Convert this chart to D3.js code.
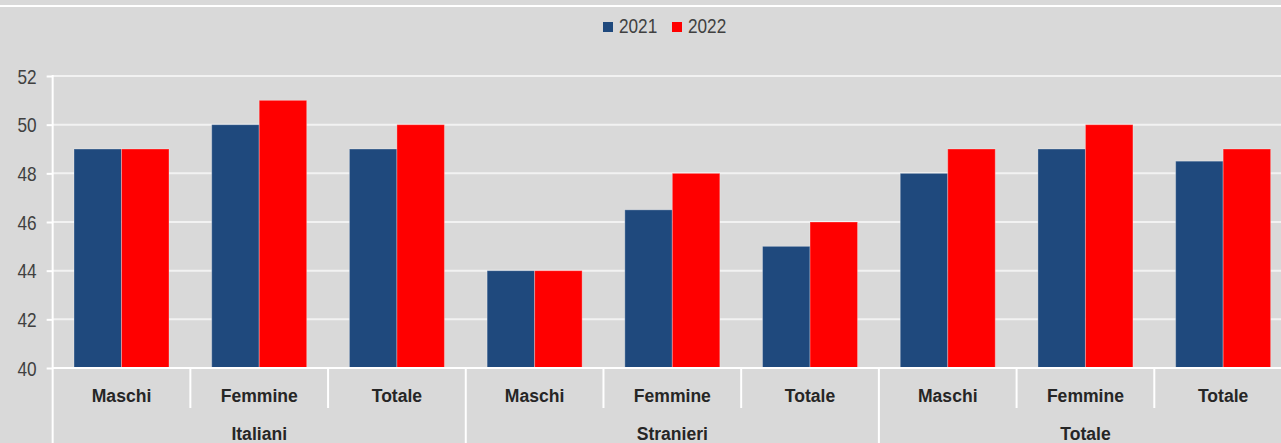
<!DOCTYPE html>
<html>
<head>
<meta charset="utf-8">
<script src="https://cdn.jsdelivr.net/npm/d3@7"></script>
<style>
  html, body { margin: 0; padding: 0; background: #d9d9d9; overflow: hidden; }
  svg { display: block; }
  text { font-family: "Liberation Sans", Arial, sans-serif; }
</style>
</head>
<body>
<svg id="chart" width="1281" height="443"></svg>
<script>
const subCategories = ["Maschi", "Femmine", "Totale", "Maschi", "Femmine", "Totale", "Maschi", "Femmine", "Totale"];
const groups = ["Italiani", "Stranieri", "Totale"];
const seriesNames = ["2021", "2022"];
const values2021 = [49, 50, 49, 44, 46.5, 45, 48, 49, 48.5];
const values2022 = [49, 51, 50, 44, 48, 46, 49, 50, 49];
const yTicks = [40, 42, 44, 46, 48, 50, 52];
const colors = ["#1f497d", "#ff0000"];

(function () {
const svg = d3.select("#chart");
const W = 1281, H = 443;
svg.append("rect").attr("width", W).attr("height", H).attr("fill", "#d9d9d9");
svg.append("rect").attr("x", 0).attr("y", 5).attr("width", W).attr("height", 2).attr("fill", "#ffffff");

const mLeft = 52.65, mRight = 1292, mTop = 76, mBottom = 368;
const idx = d3.range(subCategories.length);
const x = d3.scaleBand().domain(idx).range([mLeft, mRight]).paddingInner(0).paddingOuter(0);
const bw = x.bandwidth();
const pad = 21.35 / 137.7 * bw;
const x1 = d3.scaleBand().domain(seriesNames).range([pad, bw - pad]).padding(0);
const y = d3.scaleLinear().domain([40, 52]).range([mBottom, mTop]);

// gridlines
svg.append("g").selectAll("line").data(yTicks.filter(t => t > 40)).join("line")
  .attr("x1", mLeft).attr("x2", W).attr("y1", d => y(d)).attr("y2", d => y(d))
  .attr("stroke", "#f2f2f2").attr("stroke-width", 2);

// bars
const rows = idx.map(i => ({ i, vals: [values2021[i], values2022[i]] }));
const gBars = svg.append("g");
rows.forEach(r => {
  seriesNames.forEach((s, k) => {
    gBars.append("rect")
      .attr("x", x(r.i) + x1(s))
      .attr("y", y(r.vals[k]))
      .attr("width", x1.bandwidth())
      .attr("height", y(40) - y(r.vals[k]))
      .attr("fill", colors[k])
      .attr("stroke", "rgba(255,255,255,0.3)")
      .attr("stroke-width", 1);
  });
});

// y axis
const yAxis = d3.axisLeft(y).tickValues(yTicks).tickSize(6).tickSizeOuter(0).tickFormat(d3.format("d"));
const gy = svg.append("g").attr("transform", `translate(${mLeft},0)`).call(yAxis);
gy.select(".domain").remove();
gy.selectAll(".tick line").attr("stroke", "#ffffff").attr("stroke-width", 2);
gy.selectAll(".tick text").remove();
gy.selectAll(".tick").append("text")
  .attr("transform", "translate(-16,7) scale(0.86,1)")
  .attr("text-anchor", "end")
  .attr("fill", "#404040")
  .attr("font-size", 20)
  .text(d => d);
svg.append("line").attr("x1", mLeft).attr("x2", mLeft).attr("y1", mTop - 1).attr("y2", H)
  .attr("stroke", "#ffffff").attr("stroke-width", 2);

// x axis baseline
svg.append("line").attr("x1", mLeft).attr("x2", W).attr("y1", mBottom).attr("y2", mBottom)
  .attr("stroke", "#ffffff").attr("stroke-width", 2);

// x axis labels
const xAxis = d3.axisBottom(x).tickSize(0).tickFormat(i => subCategories[i]);
const gx = svg.append("g").attr("transform", `translate(0,${mBottom})`).call(xAxis);
gx.select(".domain").remove();
gx.selectAll(".tick text").remove();
gx.selectAll(".tick").append("text")
  .attr("transform", "translate(0,33.5) scale(0.95,1)")
  .attr("text-anchor", "middle")
  .attr("fill", "#262626")
  .attr("font-weight", "bold")
  .attr("font-size", 18.5)
  .text(i => subCategories[i]);

// separators
idx.slice(1).forEach(i => {
  const xx = x(i);
  const isGroup = i % 3 === 0;
  svg.append("line").attr("x1", xx).attr("x2", xx).attr("y1", mBottom).attr("y2", isGroup ? H : 408)
    .attr("stroke", "#ffffff").attr("stroke-width", 2);
});

// group labels
groups.forEach((g, gi) => {
  const cx = (x(gi * 3) + x(gi * 3 + 2) + bw) / 2;
  svg.append("text")
    .attr("transform", `translate(${cx},440) scale(0.95,1)`)
    .attr("text-anchor", "middle")
    .attr("fill", "#262626")
    .attr("font-weight", "bold")
    .attr("font-size", 18.5)
    .text(g);
});

// legend
const legendX = [603, 672];
seriesNames.forEach((s, k) => {
  svg.append("rect").attr("x", legendX[k]).attr("y", 22).attr("width", 10).attr("height", 10)
    .attr("fill", colors[k]);
  svg.append("text")
    .attr("transform", `translate(${legendX[k] + 16},33) scale(0.86,1)`)
    .attr("fill", "#404040")
    .attr("font-size", 20)
    .text(s);
});
})();
</script>
</body>
</html>
